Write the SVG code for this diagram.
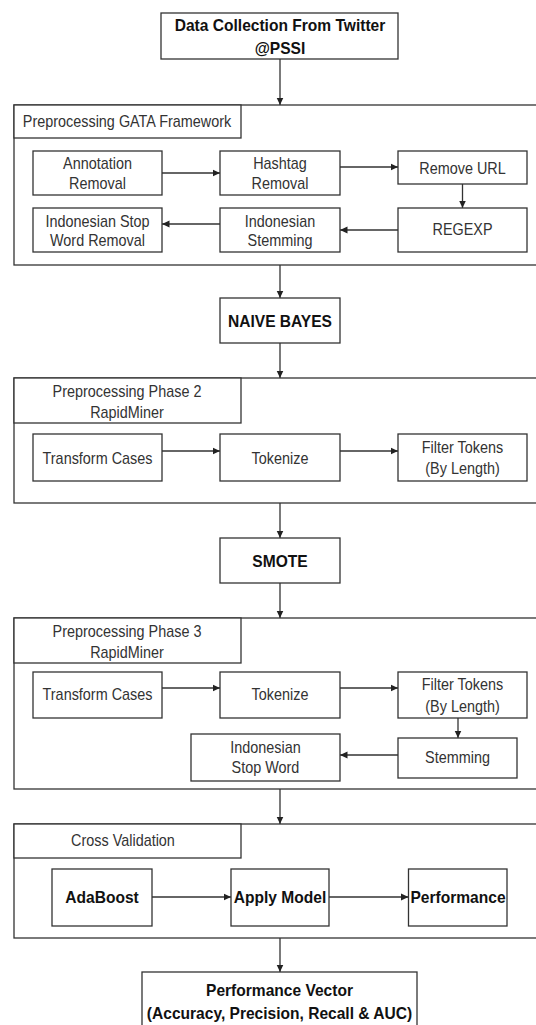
<svg xmlns="http://www.w3.org/2000/svg" width="536" height="1025" viewBox="0 0 536 1025">
<defs>
<marker id="ah" markerWidth="8" markerHeight="8" refX="7.5" refY="4" orient="auto" markerUnits="userSpaceOnUse">
<path d="M0,0.5 L7.5,4 L0,7.5 Z" fill="#222"/>
</marker>
<style>
.box{fill:#fff;stroke:#333;stroke-width:1.3}
.cont{fill:none;stroke:#333;stroke-width:1.3}
.t{font-family:"Liberation Sans",Arial,sans-serif;font-size:16px;fill:#333;text-anchor:middle}
.b{font-family:"Liberation Sans",Arial,sans-serif;font-size:17.3px;font-weight:bold;fill:#111;text-anchor:middle}
.c{stroke:#333;stroke-width:1.3;fill:none;marker-end:url(#ah)}
</style>
</defs>
<rect width="536" height="1025" fill="#fff"/>

<g id="containers">
<g id="gata"><rect class="cont" x="14" y="105" width="532" height="160"/><rect class="box" x="14" y="105" width="227" height="33"/><text class="t" transform="translate(127,0) scale(0.9,1)" y="127.5">Preprocessing GATA Framework</text></g>
<g id="phase2"><rect class="cont" x="14" y="378" width="532" height="125"/><rect class="box" x="14" y="378" width="227" height="45"/><text class="t" transform="translate(127,0) scale(0.9,1)" y="397">Preprocessing Phase 2</text><text class="t" transform="translate(127,0) scale(0.9,1)" y="418">RapidMiner</text></g>
<g id="phase3"><rect class="cont" x="14" y="618" width="532" height="171"/><rect class="box" x="14" y="618" width="227" height="45"/><text class="t" transform="translate(127,0) scale(0.9,1)" y="637">Preprocessing Phase 3</text><text class="t" transform="translate(127,0) scale(0.9,1)" y="658">RapidMiner</text></g>
<g id="crossval"><rect class="cont" x="14" y="824" width="532" height="114"/><rect class="box" x="14" y="824" width="227" height="34"/><text class="t" transform="translate(123,0) scale(0.9,1)" y="846.5">Cross Validation</text></g>
</g>

<g id="connectors">
<line class="c" x1="280" y1="59" x2="280" y2="105"/>
<line class="c" x1="162" y1="173" x2="220" y2="173"/>
<line class="c" x1="340" y1="167" x2="398" y2="167"/>
<line class="c" x1="462.5" y1="184" x2="462.5" y2="208"/>
<line class="c" x1="398" y1="230" x2="340" y2="230"/>
<line class="c" x1="220" y1="224" x2="162" y2="224"/>
<line class="c" x1="280" y1="265" x2="280" y2="298"/>
<line class="c" x1="280" y1="343" x2="280" y2="378"/>
<line class="c" x1="162" y1="451" x2="220" y2="451"/>
<line class="c" x1="340" y1="451" x2="398" y2="451"/>
<line class="c" x1="280" y1="503" x2="280" y2="538"/>
<line class="c" x1="280" y1="583" x2="280" y2="618"/>
<line class="c" x1="162" y1="688" x2="220" y2="688"/>
<line class="c" x1="340" y1="688" x2="398" y2="688"/>
<line class="c" x1="458" y1="718" x2="458" y2="738"/>
<line class="c" x1="398" y1="755" x2="340" y2="755"/>
<line class="c" x1="280" y1="789" x2="280" y2="824"/>
<line class="c" x1="152" y1="897" x2="231" y2="897"/>
<line class="c" x1="329" y1="897" x2="408.5" y2="897"/>
<line class="c" x1="280" y1="938" x2="280" y2="972"/>
</g>

<g id="n-data"><rect class="box" x="161" y="13" width="237" height="46"/><text class="b" transform="translate(280,0) scale(0.9,1)" y="31.5">Data Collection From Twitter</text><text class="b" transform="translate(280,0) scale(0.9,1)" y="54.5">@PSSI</text></g>

<g id="n-annot"><rect class="box" x="33" y="151" width="129" height="44"/><text class="t" transform="translate(97.5,0) scale(0.9,1)" y="169.5">Annotation</text><text class="t" transform="translate(97.5,0) scale(0.9,1)" y="189.5">Removal</text></g>
<g id="n-hashtag"><rect class="box" x="220" y="151" width="120" height="44"/><text class="t" transform="translate(280,0) scale(0.9,1)" y="169.5">Hashtag</text><text class="t" transform="translate(280,0) scale(0.9,1)" y="189.5">Removal</text></g>
<g id="n-url"><rect class="box" x="398" y="151" width="129" height="33"/><text class="t" transform="translate(462.5,0) scale(0.9,1)" y="174">Remove URL</text></g>
<g id="n-regexp"><rect class="box" x="398" y="208" width="129" height="44"/><text class="t" transform="translate(462.5,0) scale(0.9,1)" y="235.5">REGEXP</text></g>
<g id="n-stem1"><rect class="box" x="220" y="208" width="120" height="44"/><text class="t" transform="translate(280,0) scale(0.9,1)" y="227.5">Indonesian</text><text class="t" transform="translate(280,0) scale(0.9,1)" y="246.5">Stemming</text></g>
<g id="n-stop1"><rect class="box" x="33" y="208" width="129" height="44"/><text class="t" transform="translate(97.5,0) scale(0.9,1)" y="227.5">Indonesian Stop</text><text class="t" transform="translate(97.5,0) scale(0.9,1)" y="246.5">Word Removal</text></g>

<g id="n-nb"><rect class="box" x="220" y="298" width="120" height="45"/><text class="b" transform="translate(280,0) scale(0.9,1)" y="327">NAIVE BAYES</text></g>

<g id="n-tc2"><rect class="box" x="33" y="434" width="129" height="47"/><text class="t" transform="translate(97.5,0) scale(0.9,1)" y="464">Transform Cases</text></g>
<g id="n-tok2"><rect class="box" x="220" y="434" width="120" height="47"/><text class="t" transform="translate(280,0) scale(0.9,1)" y="464">Tokenize</text></g>
<g id="n-ft2"><rect class="box" x="398" y="434" width="129" height="47"/><text class="t" transform="translate(462.5,0) scale(0.9,1)" y="453.5">Filter Tokens</text><text class="t" transform="translate(462.5,0) scale(0.9,1)" y="474">(By Length)</text></g>

<g id="n-smote"><rect class="box" x="220" y="538" width="120" height="45"/><text class="b" transform="translate(280,0) scale(0.9,1)" y="567.5">SMOTE</text></g>

<g id="n-tc3"><rect class="box" x="33" y="672" width="129" height="46"/><text class="t" transform="translate(97.5,0) scale(0.9,1)" y="700.5">Transform Cases</text></g>
<g id="n-tok3"><rect class="box" x="220" y="672" width="120" height="46"/><text class="t" transform="translate(280,0) scale(0.9,1)" y="700.5">Tokenize</text></g>
<g id="n-ft3"><rect class="box" x="398" y="672" width="129" height="46"/><text class="t" transform="translate(462.5,0) scale(0.9,1)" y="690.5">Filter Tokens</text><text class="t" transform="translate(462.5,0) scale(0.9,1)" y="712">(By Length)</text></g>
<g id="n-stem3"><rect class="box" x="398" y="738" width="119" height="40"/><text class="t" transform="translate(457.5,0) scale(0.9,1)" y="763.5">Stemming</text></g>
<g id="n-stop3"><rect class="box" x="191" y="734" width="149" height="47"/><text class="t" transform="translate(265.5,0) scale(0.9,1)" y="753.5">Indonesian</text><text class="t" transform="translate(265.5,0) scale(0.9,1)" y="773.5">Stop Word</text></g>

<g id="n-ada"><rect class="box" x="52" y="869" width="100" height="57"/><text class="b" transform="translate(102,0) scale(0.9,1)" y="903.5">AdaBoost</text></g>
<g id="n-apply"><rect class="box" x="231" y="869" width="98" height="57"/><text class="b" transform="translate(280,0) scale(0.9,1)" y="903.5">Apply Model</text></g>
<g id="n-perf"><rect class="box" x="408.5" y="869" width="98.5" height="57"/><text class="b" transform="translate(458,0) scale(0.9,1)" y="903.5">Performance</text></g>

<g id="n-pv"><rect class="box" x="142" y="972" width="275" height="60"/><text class="b" transform="translate(279.5,0) scale(0.9,1)" y="996">Performance Vector</text><text class="b" transform="translate(279.5,0) scale(0.9,1)" y="1019.5">(Accuracy, Precision, Recall &amp; AUC)</text></g>
</svg>
